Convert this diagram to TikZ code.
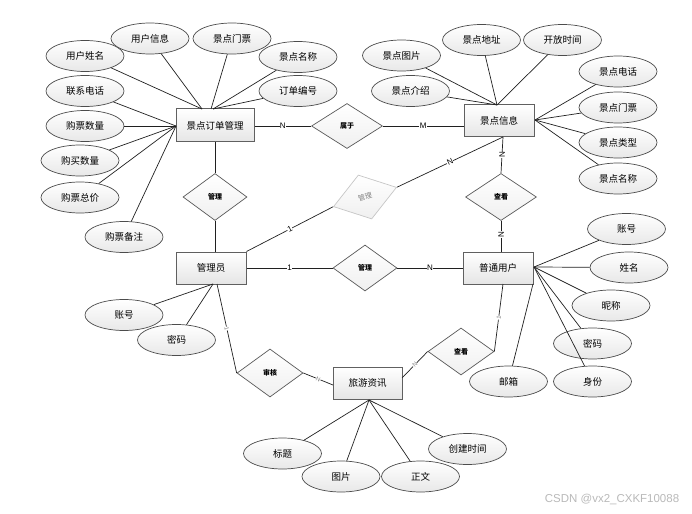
\documentclass[tikz,border=0pt]{standalone}
\usepackage{fontspec}
\setmainfont{Liberation Sans}
\newfontfamily\cjk{Noto Sans CJK SC}
\usetikzlibrary{shapes.geometric}
\begin{document}
\begin{tikzpicture}[x=1pt,y=-1pt,
  every node/.style={font=\cjk\fontsize{9.5}{10}\selectfont, text=black},
  ent/.style={draw=gray!75!black, line width=1pt, rectangle, minimum width=70pt, minimum height=32pt, top color=white, bottom color=gray!20, inner sep=1pt},
  attr/.style={draw=gray!60!black, line width=0.7pt, ellipse, minimum width=78pt, minimum height=31pt, top color=white, bottom color=gray!18, inner sep=0pt},
  rel/.style={draw=gray!70!black, line width=0.7pt, diamond, minimum width=66pt, minimum height=47pt, inner sep=0pt, top color=white, bottom color=gray!12, font=\cjk\fontsize{7}{8}\selectfont\bfseries},
  ln/.style={draw=gray!25!black, line width=0.7pt},
  card/.style={font=\fontsize{8}{9}\selectfont, fill=white, inner sep=0.4pt},
  cardsm/.style={font=\fontsize{6}{7}\selectfont, fill=white, inner sep=0.3pt, text=gray}
]
\useasboundingbox (0,0) rectangle (692,513);

% entities
\node[ent, minimum width=78pt, minimum height=33pt] (ord) at (215,125.5) {景点订单管理};
\node[ent] (inf) at (499,121) {景点信息};
\node[ent] (adm) at (211,268) {管理员};
\node[ent] (usr) at (498,268) {普通用户};
\node[ent, minimum width=69pt] (news) at (367.5,383) {旅游资讯};

% relationships
\node[rel, minimum width=71pt, minimum height=45pt] (r1) at (347,126) {属于};
\node[rel, minimum width=64pt] (r2) at (215,197) {管理};
\node[rel, rotate=17, draw=gray!45, text=gray, font=\cjk\fontsize{7}{8}\selectfont, minimum width=66pt, minimum height=46pt] (r3) at (365,197) {管理};
\node[rel, minimum width=71pt] (r4) at (501,197) {查看};
\node[rel, minimum width=64pt, minimum height=46pt] (r5) at (365,268) {管理};
\node[rel] (r6) at (461,351.5) {查看};
\node[rel, minimum height=48pt] (r7) at (270,373) {审核};

% attributes of ord
\node[attr] (o1) at (85,56) {用户姓名};
\node[attr] (o2) at (150,38.5) {用户信息};
\node[attr] (o3) at (232,38.5) {景点门票};
\node[attr] (o4) at (298,57) {景点名称};
\node[attr] (o5) at (298,91) {订单编号};
\node[attr] (o6) at (85,91) {联系电话};
\node[attr] (o7) at (85,126) {购票数量};
\node[attr] (o8) at (80,160.5) {购买数量};
\node[attr] (o9) at (80,197.5) {购票总价};
\node[attr] (o10) at (124,237) {购票备注};
\coordinate (ordt1) at (202,109);
\coordinate (ordt2) at (211,109);
\coordinate (ordt3) at (213,109);
\coordinate (ordl) at (176,126);
\foreach \a in {o1,o2} \draw[ln] (\a) -- (ordt1);
\draw[ln] (o3) -- (ordt2);
\foreach \a in {o4,o5} \draw[ln] (\a) -- (ordt3);
\foreach \a in {o6,o7,o8,o9,o10} \draw[ln] (\a) -- (ordl);

% attributes of inf
\node[attr] (i1) at (401.5,55.5) {景点图片};
\node[attr] (i2) at (481.5,40) {景点地址};
\node[attr] (i3) at (562.5,40) {开放时间};
\node[attr] (i4) at (410.5,91) {景点介绍};
\node[attr] (i5) at (618,71.5) {景点电话};
\node[attr] (i6) at (618,107.5) {景点门票};
\node[attr] (i7) at (618,142.5) {景点类型};
\node[attr] (i8) at (618,178.5) {景点名称};
\coordinate (inft) at (497,105);
\coordinate (infr) at (535,120);
\foreach \a in {i1,i2,i3,i4} \draw[ln] (\a) -- (inft);
\foreach \a in {i5,i6,i7,i8} \draw[ln] (\a) -- (infr);

% attributes of usr
\node[attr] (u1) at (626.5,229) {账号};
\node[attr] (u2) at (629,267.5) {姓名};
\node[attr] (u3) at (611,305.5) {昵称};
\node[attr] (u4) at (592.5,343.5) {密码};
\node[attr] (u5) at (592.5,381.5) {身份};
\node[attr] (u6) at (508.5,381.5) {邮箱};
\coordinate (usrr) at (534,267);
\coordinate (usrb) at (533,284);
\foreach \a in {u1,u2,u3,u4,u5} \draw[ln] (\a) -- (usrr);
\draw[ln] (u6) -- (usrb);

% attributes of adm
\node[attr] (d1) at (124,315) {账号};
\node[attr] (d2) at (176.5,340) {密码};
\coordinate (admb) at (213,284);
\foreach \a in {d1,d2} \draw[ln] (\a) -- (admb);

% attributes of news
\node[attr] (n1) at (282.5,453.5) {标题};
\node[attr] (n2) at (341,476.5) {图片};
\node[attr] (n3) at (420.5,476.5) {正文};
\node[attr] (n4) at (467.5,449) {创建时间};
\coordinate (newsb) at (369,400);
\foreach \a in {n1,n2,n3,n4} \draw[ln] (\a) -- (newsb);

% relationship connectors
\draw[ln] (ord.east |- r1.west) -- node[card, pos=0.5] {N} (r1.west);
\draw[ln] (r1.east) -- node[card, pos=0.5] {M} (r1.east -| inf.west);
\draw[ln] (ord.south) -- (r2.north);
\draw[ln] (r2.south) -- (r2.south |- adm.north);
\coordinate (infb) at (503,137);
\draw[ln] (adm.north east) -- node[card, sloped, pos=0.5] {1} (r3.west);
\draw[ln] (r3.east) -- node[card, sloped, pos=0.5] {N} (infb);
\draw[ln] (infb) -- node[card, rotate=90, pos=0.5] {N} (r4.north);
\draw[ln] (r4.south) -- node[card, rotate=90, pos=0.45] {N} (r4.south |- usr.north);
\draw[ln] (adm.east) -- node[card, pos=0.5] {1} (r5.west);
\draw[ln] (r5.east) -- node[card, pos=0.5] {N} (usr.west);
\coordinate (usrb2) at (503,284);
\draw[ln] (usrb2) -- node[cardsm, sloped, pos=0.5] {1} (r6.east);
\coordinate (newsr) at (402,378);
\draw[ln] (r6.west) -- node[cardsm, sloped, pos=0.5] {N} (newsr);
\coordinate (admb2) at (217,284);
\draw[ln] (admb2) -- node[cardsm, sloped, pos=0.5] {1} (r7.west);
\coordinate (newsl) at (333,385);
\draw[ln] (r7.east) -- node[cardsm, sloped, pos=0.5] {N} (newsl);

% watermark
\node[font=\fontsize{11.5}{12}\selectfont, text=gray!55] (wm) at (612,499) {CSDN @vx2\_CXKF10088};
\end{tikzpicture}
\end{document}
